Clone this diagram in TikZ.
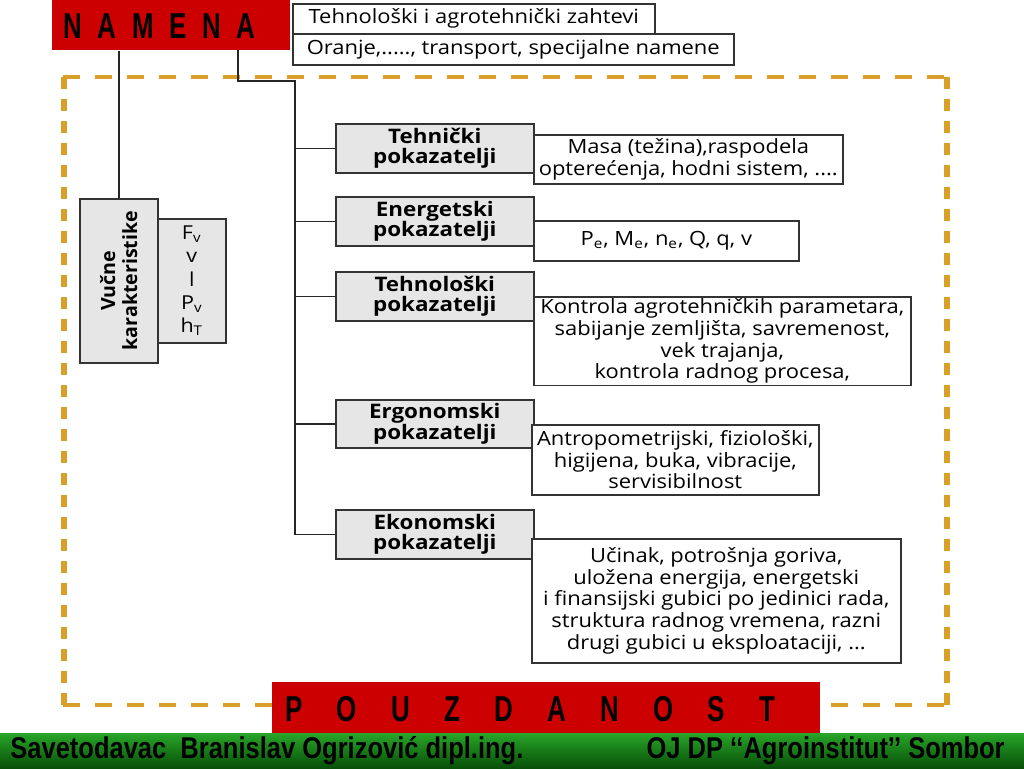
\documentclass[tikz,border=0pt]{standalone}
\usepackage{fontspec}
\setmainfont{Open Sans}[FakeStretch=1.12]
\newfontfamily\vertfont{Open Sans}
\newfontfamily\bannerfont{Liberation Sans}[FakeStretch=0.72]
\newfontfamily\footfont{Liberation Sans}[FakeStretch=0.85]
\usetikzlibrary{positioning}
\definecolor{namred}{RGB}{204,0,0}
\definecolor{boxgray}{RGB}{230,230,230}
\definecolor{framegold}{RGB}{216,160,40}
\definecolor{foottop}{RGB}{40,165,40}
\definecolor{footbot}{RGB}{8,80,8}
\newcommand\spreadword[2]{\makebox[#1][s]{#2}}

\begin{document}
\begin{tikzpicture}[
    x=0.5pt,y=-0.5pt,
    redbox/.style={
      fill=namred,
      anchor=north west,
      inner sep=0pt
    },
    bannertext/.style={
      font=\bannerfont\bfseries\fontsize{18}{18}\selectfont
    },
    gbox/.style={
      draw=black!80,
      line width=0.8pt,
      fill=boxgray,
      anchor=north west,
      inner sep=1pt,
      align=center,
      minimum width=99pt,
      font=\bfseries\fontsize{10}{10.4}\selectfont
    },
    wbox/.style={
      draw=black!80,
      line width=0.8pt,
      fill=white,
      anchor=north west,
      inner sep=1pt,
      align=center,
      font=\fontsize{9.8}{10.8}\selectfont
    },
    link/.style={line width=0.8pt,black!85},
    frameh/.style={framegold,line width=2pt,dash pattern=on 8.5pt off 7.5pt},
    framev/.style={framegold,line width=3pt,dash pattern=on 6pt off 5pt},
    foottext/.style={inner sep=0pt,font=\footfont\bfseries\fontsize{15}{15}\selectfont}
    ]
    \useasboundingbox[fill=white] (0,0) rectangle (1024,768);

    \draw[frameh] (63,77) -- (948,77);
    \draw[frameh] (63,705) -- (948,705);
    \draw[framev] (64,77) -- (64,705);
    \draw[framev] (947,77) -- (947,705);

    \node[redbox,minimum width=119pt,minimum height=25pt] (nam) at (52,0) {};
    \node[bannertext] (namtxt) at ([xshift=-6pt,yshift=-0.5pt]nam.center)
      {\spreadword{96pt}{N\hfill A\hfill M\hfill E\hfill N\hfill A}};
    \node[wbox,minimum width=181pt,minimum height=15pt] (zah) at (292,3)
      {Tehnološki i agrotehnički zahtevi};
    \node[wbox,minimum width=220.5pt,minimum height=15.5pt] (ora) at (292,33)
      {Oranje,....., transport, specijalne namene};

    \node[gbox,minimum width=39pt,minimum height=82pt] (vuc) at (79,198) {};
    \node[rotate=90,align=center,font=\vertfont\bfseries\fontsize{9.8}{11}\selectfont]
      (vuctxt) at (vuc.center) {Vučne\\karakteristike};
    \node[gbox,minimum width=34pt,minimum height=62pt,
      font=\fontsize{9.6}{11.6}\selectfont] (fv) at (157,218)
      {F\textsubscript{v}\\v\\l\\P\textsubscript{v}\\h\textsubscript{T}};

    \node[gbox,minimum height=24.5pt] (teh) at (335,123) {Tehnički\\pokazatelji};
    \node[gbox,minimum height=24.5pt] (ene) at (335,196) {Energetski\\pokazatelji};
    \node[gbox,minimum height=24.5pt] (tlo) at (335,271) {Tehnološki\\pokazatelji};
    \node[gbox,minimum height=24pt] (erg) at (335,399) {Ergonomski\\pokazatelji};
    \node[gbox,minimum height=24.5pt] (eko) at (335,509) {Ekonomski\\pokazatelji};

    \node[wbox,minimum width=154.5pt,minimum height=24.5pt] (mas) at (533,134)
      {Masa (težina),raspodela\\opterećenja, hodni sistem, ....};
    \node[wbox,minimum width=132.5pt,minimum height=20pt] (pe) at (533,220)
      {P\textsubscript{e}, M\textsubscript{e}, n\textsubscript{e}, Q, q, v};
    \node[wbox,minimum width=188.5pt,minimum height=44pt] (kon) at (533,296)
      {Kontrola agrotehničkih parametara,\\sabijanje zemljišta, savremenost,\\vek trajanja,\\kontrola radnog procesa,};
    \node[wbox,minimum width=143.5pt,minimum height=35pt] (ant) at (531,424)
      {Antropometrijski, fiziološki,\\higijena, buka, vibracije,\\servisibilnost};
    \node[wbox,minimum width=184.5pt,minimum height=62pt] (uci) at (531,538)
      {Učinak, potrošnja goriva,\\uložena energija, energetski\\i finansijski gubici po jedinici rada,\\struktura radnog vremena, razni\\drugi gubici u eksploataciji, ...};

    \coordinate (nb) at (238,50);
    \coordinate (tk) at (295,81);
    \draw[link] (nam.south -| vuc.north) -- (vuc.north);
    \draw[link] (nb) |- (tk) -- (tk |- eko.west) -- (eko.west);
    \foreach \b in {teh,ene,tlo,erg}
      \draw[link] (tk |- \b.west) -- (\b.west);

    \node[redbox,minimum width=274pt,minimum height=25.5pt] (pou) at (272,682) {};
    \node[bannertext] (poutxt) at ([xshift=-8pt,yshift=-0.5pt]pou.center)
      {\spreadword{245pt}{P\hfill O\hfill U\hfill Z\hfill D\hfill A\hfill N\hfill O\hfill S\hfill T}};

    \shade[top color=foottop,bottom color=footbot] (0,733) rectangle (1024,768);
    \node[foottext,anchor=west] (sav) at (10,751) {Savetodavac\ \ Branislav Ogrizović dipl.ing.};
    \node[foottext,anchor=east] (ojdp) at (1005,751) {OJ DP ‘‘Agroinstitut’’ Sombor};
\end{tikzpicture}
\end{document}
